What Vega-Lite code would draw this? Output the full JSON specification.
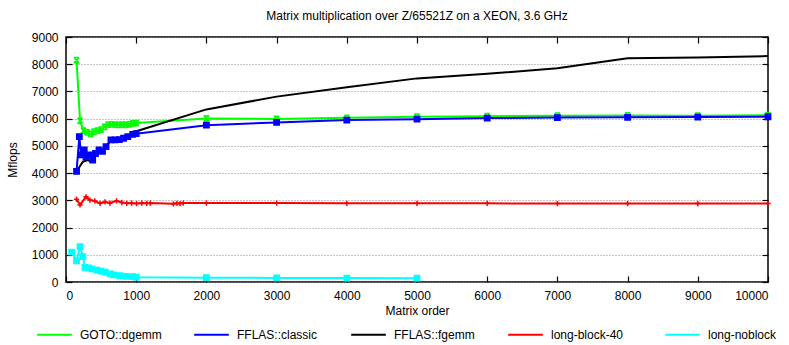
{
  "$schema": "https://vega.github.io/schema/vega-lite/v6.json",
  "width": 702,
  "height": 245,
  "autosize": {"type": "none"},
  "padding": {"left": 66, "top": 37, "right": 21, "bottom": 63},
  "background": "white",
  "title": {"text": "Matrix multiplication over Z/65521Z on a XEON, 3.6 GHz", "font": "Liberation Sans", "fontSize": 12, "fontWeight": "normal", "color": "black", "offset": 8},
  "config": {
    "view": {"stroke": "black", "strokeWidth": 1.5},
    "axis": {"labelFont": "Liberation Sans", "titleFont": "Liberation Sans", "labelFontSize": 12, "titleFontSize": 12, "titleFontWeight": "normal", "labelColor": "black", "titleColor": "black", "tickColor": "black", "tickWidth": 1.2, "domain": false, "format": "d"},
    "legend": {"labelFont": "Liberation Sans", "labelFontSize": 12, "labelColor": "black"}
  },
  "data": {"values": [
    {"s": "GOTO::dgemm", "x": 150, "y": 8150},
    {"s": "GOTO::dgemm", "x": 200, "y": 5920},
    {"s": "GOTO::dgemm", "x": 250, "y": 5560},
    {"s": "GOTO::dgemm", "x": 300, "y": 5500},
    {"s": "GOTO::dgemm", "x": 350, "y": 5440},
    {"s": "GOTO::dgemm", "x": 400, "y": 5520},
    {"s": "GOTO::dgemm", "x": 450, "y": 5560},
    {"s": "GOTO::dgemm", "x": 500, "y": 5600},
    {"s": "GOTO::dgemm", "x": 550, "y": 5700},
    {"s": "GOTO::dgemm", "x": 600, "y": 5780},
    {"s": "GOTO::dgemm", "x": 650, "y": 5790},
    {"s": "GOTO::dgemm", "x": 700, "y": 5780},
    {"s": "GOTO::dgemm", "x": 750, "y": 5770},
    {"s": "GOTO::dgemm", "x": 800, "y": 5780},
    {"s": "GOTO::dgemm", "x": 850, "y": 5770},
    {"s": "GOTO::dgemm", "x": 900, "y": 5790},
    {"s": "GOTO::dgemm", "x": 950, "y": 5830},
    {"s": "GOTO::dgemm", "x": 1000, "y": 5840},
    {"s": "GOTO::dgemm", "x": 2000, "y": 6010},
    {"s": "GOTO::dgemm", "x": 3000, "y": 5990},
    {"s": "GOTO::dgemm", "x": 4000, "y": 6030},
    {"s": "GOTO::dgemm", "x": 5000, "y": 6070},
    {"s": "GOTO::dgemm", "x": 6000, "y": 6090},
    {"s": "GOTO::dgemm", "x": 7000, "y": 6110},
    {"s": "GOTO::dgemm", "x": 8000, "y": 6120},
    {"s": "GOTO::dgemm", "x": 9000, "y": 6110},
    {"s": "GOTO::dgemm", "x": 10000, "y": 6130},
    {"s": "FFLAS::classic", "x": 150, "y": 4060},
    {"s": "FFLAS::classic", "x": 190, "y": 5340},
    {"s": "FFLAS::classic", "x": 215, "y": 4670},
    {"s": "FFLAS::classic", "x": 260, "y": 4850},
    {"s": "FFLAS::classic", "x": 285, "y": 4600},
    {"s": "FFLAS::classic", "x": 330, "y": 4670},
    {"s": "FFLAS::classic", "x": 380, "y": 4480},
    {"s": "FFLAS::classic", "x": 420, "y": 4720},
    {"s": "FFLAS::classic", "x": 470, "y": 4850},
    {"s": "FFLAS::classic", "x": 520, "y": 4800},
    {"s": "FFLAS::classic", "x": 570, "y": 4970},
    {"s": "FFLAS::classic", "x": 640, "y": 5220},
    {"s": "FFLAS::classic", "x": 700, "y": 5220},
    {"s": "FFLAS::classic", "x": 760, "y": 5230},
    {"s": "FFLAS::classic", "x": 820, "y": 5280},
    {"s": "FFLAS::classic", "x": 880, "y": 5340},
    {"s": "FFLAS::classic", "x": 950, "y": 5420},
    {"s": "FFLAS::classic", "x": 1000, "y": 5450},
    {"s": "FFLAS::classic", "x": 2000, "y": 5760},
    {"s": "FFLAS::classic", "x": 3000, "y": 5860},
    {"s": "FFLAS::classic", "x": 4000, "y": 5950},
    {"s": "FFLAS::classic", "x": 5000, "y": 5980},
    {"s": "FFLAS::classic", "x": 6000, "y": 6020},
    {"s": "FFLAS::classic", "x": 7000, "y": 6040},
    {"s": "FFLAS::classic", "x": 8000, "y": 6050},
    {"s": "FFLAS::classic", "x": 9000, "y": 6060},
    {"s": "FFLAS::classic", "x": 10000, "y": 6070},
    {"s": "FFLAS::fgemm", "x": 150, "y": 4060},
    {"s": "FFLAS::fgemm", "x": 240, "y": 4420},
    {"s": "FFLAS::fgemm", "x": 310, "y": 4480},
    {"s": "FFLAS::fgemm", "x": 360, "y": 4420},
    {"s": "FFLAS::fgemm", "x": 470, "y": 4790},
    {"s": "FFLAS::fgemm", "x": 570, "y": 4970},
    {"s": "FFLAS::fgemm", "x": 640, "y": 5210},
    {"s": "FFLAS::fgemm", "x": 760, "y": 5240},
    {"s": "FFLAS::fgemm", "x": 900, "y": 5340},
    {"s": "FFLAS::fgemm", "x": 980, "y": 5520},
    {"s": "FFLAS::fgemm", "x": 2000, "y": 6340},
    {"s": "FFLAS::fgemm", "x": 3000, "y": 6810},
    {"s": "FFLAS::fgemm", "x": 4000, "y": 7150},
    {"s": "FFLAS::fgemm", "x": 5000, "y": 7480},
    {"s": "FFLAS::fgemm", "x": 6000, "y": 7650},
    {"s": "FFLAS::fgemm", "x": 7000, "y": 7850},
    {"s": "FFLAS::fgemm", "x": 8000, "y": 8220},
    {"s": "FFLAS::fgemm", "x": 9000, "y": 8250},
    {"s": "FFLAS::fgemm", "x": 10000, "y": 8300},
    {"s": "long-block-40", "x": 150, "y": 3040},
    {"s": "long-block-40", "x": 200, "y": 2830},
    {"s": "long-block-40", "x": 285, "y": 3130},
    {"s": "long-block-40", "x": 340, "y": 3010},
    {"s": "long-block-40", "x": 410, "y": 2980},
    {"s": "long-block-40", "x": 485, "y": 2890},
    {"s": "long-block-40", "x": 555, "y": 2940},
    {"s": "long-block-40", "x": 625, "y": 2900},
    {"s": "long-block-40", "x": 720, "y": 2980},
    {"s": "long-block-40", "x": 795, "y": 2920},
    {"s": "long-block-40", "x": 865, "y": 2890},
    {"s": "long-block-40", "x": 935, "y": 2900},
    {"s": "long-block-40", "x": 1005, "y": 2880},
    {"s": "long-block-40", "x": 1080, "y": 2900},
    {"s": "long-block-40", "x": 1150, "y": 2890},
    {"s": "long-block-40", "x": 1200, "y": 2900},
    {"s": "long-block-40", "x": 1530, "y": 2870},
    {"s": "long-block-40", "x": 1580, "y": 2890},
    {"s": "long-block-40", "x": 1625, "y": 2880},
    {"s": "long-block-40", "x": 1670, "y": 2900},
    {"s": "long-block-40", "x": 2000, "y": 2900},
    {"s": "long-block-40", "x": 3000, "y": 2900},
    {"s": "long-block-40", "x": 4000, "y": 2890},
    {"s": "long-block-40", "x": 5000, "y": 2890},
    {"s": "long-block-40", "x": 6000, "y": 2890},
    {"s": "long-block-40", "x": 7000, "y": 2880},
    {"s": "long-block-40", "x": 8000, "y": 2880},
    {"s": "long-block-40", "x": 9000, "y": 2880},
    {"s": "long-block-40", "x": 10000, "y": 2880},
    {"s": "long-noblock", "x": 80, "y": 1100},
    {"s": "long-noblock", "x": 150, "y": 780},
    {"s": "long-noblock", "x": 200, "y": 1300},
    {"s": "long-noblock", "x": 240, "y": 930},
    {"s": "long-noblock", "x": 270, "y": 540},
    {"s": "long-noblock", "x": 320, "y": 520},
    {"s": "long-noblock", "x": 370, "y": 480},
    {"s": "long-noblock", "x": 440, "y": 440},
    {"s": "long-noblock", "x": 500, "y": 400},
    {"s": "long-noblock", "x": 560, "y": 360},
    {"s": "long-noblock", "x": 630, "y": 300},
    {"s": "long-noblock", "x": 680, "y": 260},
    {"s": "long-noblock", "x": 770, "y": 230},
    {"s": "long-noblock", "x": 860, "y": 210},
    {"s": "long-noblock", "x": 950, "y": 195},
    {"s": "long-noblock", "x": 1000, "y": 175},
    {"s": "long-noblock", "x": 2000, "y": 160},
    {"s": "long-noblock", "x": 3000, "y": 150},
    {"s": "long-noblock", "x": 4000, "y": 145},
    {"s": "long-noblock", "x": 5000, "y": 140}
  ]},
  "resolve": {"axis": {"x": "independent", "y": "independent"}},
  "layer": [
    {
      "mark": {"type": "line", "strokeWidth": 2},
      "encoding": {
        "x": {"field": "x", "type": "quantitative", "scale": {"domain": [0, 10000], "nice": false},
              "axis": {"orient": "bottom", "values": [0,1000,2000,3000,4000,5000,6000,7000,8000,9000,10000], "grid": false, "tickSize": -6, "labelPadding": 14, "title": "Matrix order", "titlePadding": 4}},
        "y": {"field": "y", "type": "quantitative", "scale": {"domain": [0, 9000], "nice": false},
              "axis": {"orient": "left", "values": [0,1000,2000,3000,4000,5000,6000,7000,8000,9000], "grid": true, "gridDash": [1, 2], "gridColor": "#888", "gridWidth": 1, "tickSize": -6, "labelPadding": 14, "title": "Mflops", "titlePadding": 12}},
        "color": {"field": "s", "type": "nominal",
                  "scale": {"domain": ["GOTO::dgemm", "FFLAS::classic", "FFLAS::fgemm", "long-block-40", "long-noblock"], "range": ["#00ff00", "#0000ff", "#000000", "#ff0000", "#00ffff"]},
                  "legend": {"title": null, "orient": "none", "legendX": -30, "legendY": 279, "direction": "horizontal", "columns": 5, "gridAlign": "all", "columnPadding": 28, "symbolType": "stroke", "symbolSize": 1200, "symbolStrokeWidth": 2, "labelOffset": 7}}
      }
    },
    {
      "transform": [{"filter": "datum.s !== 'FFLAS::fgemm'"}],
      "mark": {"type": "point", "size": 28, "strokeWidth": 1.5, "opacity": 1, "filled": false},
      "encoding": {
        "x": {"field": "x", "type": "quantitative",
              "axis": {"orient": "top", "values": [0,1000,2000,3000,4000,5000,6000,7000,8000,9000,10000], "labels": false, "grid": false, "tickSize": -6, "title": null}},
        "y": {"field": "y", "type": "quantitative",
              "axis": {"orient": "right", "values": [0,1000,2000,3000,4000,5000,6000,7000,8000,9000], "labels": false, "grid": false, "tickSize": -6, "title": null}},
        "stroke": {"field": "s", "type": "nominal", "legend": null,
                   "scale": {"domain": ["GOTO::dgemm", "FFLAS::classic", "long-block-40", "long-noblock"], "range": ["#00ff00", "#0000ff", "#ff0000", "#00ffff"]}},
        "fill": {"field": "s", "type": "nominal", "legend": null,
                 "scale": {"domain": ["GOTO::dgemm", "FFLAS::classic", "long-block-40", "long-noblock"], "range": ["transparent", "#0000ff", "transparent", "#00ffff"]}},
        "shape": {"field": "s", "type": "nominal", "legend": null,
                  "scale": {"domain": ["GOTO::dgemm", "FFLAS::classic", "long-block-40", "long-noblock"], "range": ["M-1,-1L1,1M-1,1L1,-1M-1,-1L1,-1M-1,1L1,1", "square", "M-1,0L1,0M0,-1L0,1", "square"]}}
      }
    }
  ]
}
